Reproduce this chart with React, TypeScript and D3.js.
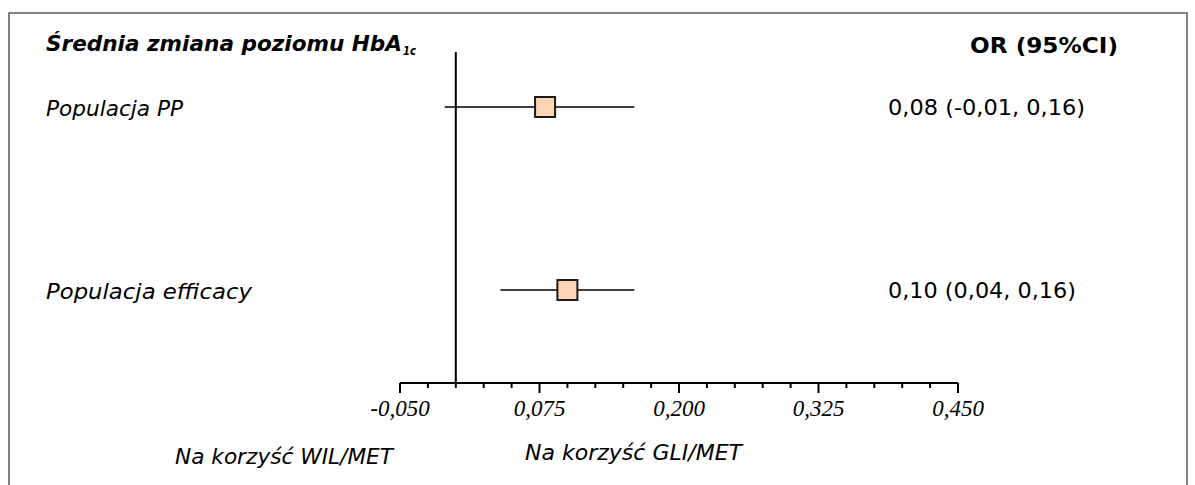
import * as React from "react";
import * as d3 from "d3";

// forest plot rows
const rowLabels = ["Populacja PP", "Populacja efficacy"];
const estimates = [0.08, 0.1];
const lowerCI = [-0.01, 0.04];
const upperCI = [0.16, 0.16];
const ciLabels = ["0,08 (-0,01, 0,16)", "0,10 (0,04, 0,16)"];

// axis
const axisDomain = [-0.05, 0.45];
const majorTicks = [-0.05, 0.075, 0.2, 0.325, 0.45];
const majorTickLabels = ["-0,050", "0,075", "0,200", "0,325", "0,450"];
const minorStep = 0.025;
const refValue = 0;

const favourLabels = ["Na korzyść WIL/MET", "Na korzyść GLI/MET"];

const W = 1195;
const H = 485;
const sans = "'DejaVu Sans', Verdana, sans-serif";
const serif = "'Liberation Serif', 'Times New Roman', serif";

const App = () => {
  const x = d3.scaleLinear().domain(axisDomain).range([400, 958]);
  const y = d3.scalePoint<string>().domain(rowLabels).range([107, 290]);
  const axisY = 383;

  const minorTicks = d3
    .range(axisDomain[0], axisDomain[1] + minorStep / 2, minorStep)
    .filter((v) => !majorTicks.some((m) => Math.abs(m - v) < 1e-9));

  return (
    <svg
      width={W}
      height={H}
      viewBox={`0 0 ${W} ${H}`}
      style={{ position: "absolute", left: 0, top: 0, background: "#fff" }}
    >
      <rect x={9} y={13} width={1178} height={520} fill="#fff" stroke="#595959" strokeWidth={1.5} />

      {/* header */}
      <text x={46} y={51} fontFamily={sans} fontSize={21.5} fontWeight="bold" fontStyle="italic" fill="#000"
        textLength={356} lengthAdjust="spacingAndGlyphs">
        Średnia zmiana poziomu HbA
      </text>
      <text x={403} y={55} fontFamily={sans} fontSize={13} fontWeight="bold" fontStyle="italic" fill="#000"
        textLength={13} lengthAdjust="spacingAndGlyphs">
        1c
      </text>
      <text x={970} y={53} fontFamily={sans} fontSize={21} fontWeight="bold" fill="#000"
        textLength={148} lengthAdjust="spacingAndGlyphs">
        OR (95%CI)
      </text>

      {/* reference line */}
      <line x1={x(refValue)} x2={x(refValue)} y1={52} y2={axisY} stroke="#000" strokeWidth={2} />

      {/* rows */}
      {rowLabels.map((r, i) => {
        const cy = y(r) ?? 0;
        const cx = x(estimates[i]);
        return (
          <g key={r}>
            <text x={46} y={cy + 9} fontFamily={sans} fontSize={21} fontStyle="italic" fill="#000"
              textLength={i === 0 ? 137 : 206} lengthAdjust="spacingAndGlyphs">
              {r}
            </text>
            <line x1={x(lowerCI[i])} x2={x(upperCI[i])} y1={cy} y2={cy} stroke="#000" strokeWidth={1.5} />
            <rect x={cx - 10} y={cy - 10} width={20} height={20} fill="#FCD5B4" stroke="#1a1a1a" strokeWidth={2} />
            <text x={888} y={cy + 8} fontFamily={sans} fontSize={21} fill="#000"
              textLength={i === 0 ? 197 : 188} lengthAdjust="spacingAndGlyphs">
              {ciLabels[i]}
            </text>
          </g>
        );
      })}

      {/* axis */}
      <line x1={x(axisDomain[0])} x2={x(axisDomain[1])} y1={axisY} y2={axisY} stroke="#000" strokeWidth={2} />
      {majorTicks.map((t) => (
        <line key={`M${t}`} x1={x(t)} x2={x(t)} y1={axisY} y2={axisY + 10} stroke="#000" strokeWidth={2} />
      ))}
      {minorTicks.map((t) => (
        <line key={`m${t}`} x1={x(t)} x2={x(t)} y1={axisY} y2={axisY + 5} stroke="#000" strokeWidth={2} />
      ))}
      {majorTicks.map((t, i) => (
        <text key={`L${t}`} x={x(t)} y={416} textAnchor="middle" fontFamily={serif} fontSize={23}
          fontStyle="italic" fill="#000">
          {majorTickLabels[i]}
        </text>
      ))}

      {/* favour labels */}
      <text x={175} y={464} fontFamily={sans} fontSize={21} fontStyle="italic" fill="#000"
        textLength={218} lengthAdjust="spacingAndGlyphs">
        {favourLabels[0]}
      </text>
      <text x={525} y={460} fontFamily={sans} fontSize={21} fontStyle="italic" fill="#000"
        textLength={217} lengthAdjust="spacingAndGlyphs">
        {favourLabels[1]}
      </text>
    </svg>
  );
};

export default App;
